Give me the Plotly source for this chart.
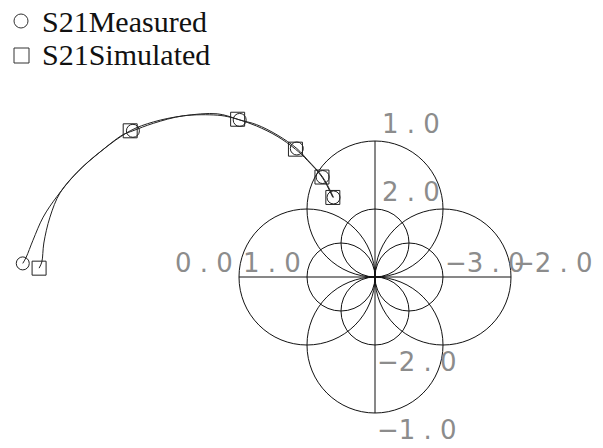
import plotly.graph_objects as go

# S21 trace (measured), polyline points and marker points, in chart units
meas_x = [-5.18, -5.13, -5.03, -4.88, -4.68, -4.38, -4.04, -3.71, -3.56, -3.26,
          -2.82, -2.32, -2.13, -1.99, -1.74, -1.44, -1.15, -0.99, -0.77, -0.61]
meas_y = [0.20, 0.29, 0.54, 0.88, 1.18, 1.54, 1.84, 2.09, 2.15, 2.26,
          2.37, 2.38, 2.35, 2.31, 2.24, 2.09, 1.89, 1.72, 1.47, 1.17]
meas_mx = [-5.18, -3.56, -1.99, -1.15, -0.77, -0.61]
meas_my = [0.20, 2.15, 2.31, 1.89, 1.47, 1.17]

# S21 trace (simulated)
sim_x = [-4.94, -4.90, -4.87, -4.78, -4.63, -4.35, -4.03, -3.60, -3.26,
         -2.82, -2.32, -2.02, -1.74, -1.44, -1.17, -0.99, -0.78, -0.62]
sim_y = [0.13, 0.22, 0.50, 0.88, 1.24, 1.57, 1.85, 2.15, 2.28,
         2.37, 2.40, 2.32, 2.22, 2.07, 1.88, 1.71, 1.47, 1.17]
sim_mx = [-4.94, -3.60, -2.02, -1.17, -0.78, -0.62]
sim_my = [0.13, 2.15, 2.32, 1.88, 1.47, 1.17]

series_names = ["S21Measured", "S21Simulated"]

# grid circles: radius of each circle family, all tangent at the origin
grid_radii = [1.0, 0.5]
grid_dirs = [(0, 1), (0, -1), (-1, 0), (1, 0)]

# axis labels placed at the grid extremes
top_labels = ["1 . 0", "2 . 0"]                 # at y = 2, 1
bottom_labels = ["\u22122 . 0", "\u22121 . 0"]  # at y = -1, -2
left_labels = ["0 . 0", "1 . 0"]                # at x = -2, -1
right_labels = ["\u22123 . 0", "\u22122 . 0"]   # at x = 1, 2

W, H = 603, 448
PX = 68.0          # pixels per chart unit
CX, CY = 375, 277  # origin in pixels

fig = go.Figure()

for xs, ys in [(meas_x, meas_y), (sim_x, sim_y)]:
    fig.add_trace(go.Scatter(x=xs, y=ys, mode="lines", showlegend=False,
                             line=dict(color="#222", width=1, shape="spline"),
                             hoverinfo="skip"))
fig.add_trace(go.Scatter(x=meas_mx, y=meas_my, mode="markers", name=series_names[0],
                         showlegend=False,
                         marker=dict(symbol="circle-open", size=13,
                                     color="#222", line=dict(width=1, color="#222"))))
fig.add_trace(go.Scatter(x=sim_mx, y=sim_my, mode="markers", name=series_names[1],
                         showlegend=False,
                         marker=dict(symbol="square-open", size=14,
                                     color="#222", line=dict(width=1, color="#222"))))

shapes = []
for r in grid_radii:
    for dx, dy in grid_dirs:
        cx, cy = dx * r, dy * r
        shapes.append(dict(type="circle", xref="x", yref="y",
                           x0=cx - r, x1=cx + r, y0=cy - r, y1=cy + r,
                           line=dict(color="#111", width=1), layer="below"))
ext = 2 * max(grid_radii)
shapes.append(dict(type="line", x0=-ext, x1=ext, y0=0, y1=0,
                   line=dict(color="#111", width=1), layer="below"))
shapes.append(dict(type="line", x0=0, x1=0, y0=-ext, y1=ext,
                   line=dict(color="#111", width=1), layer="below"))

# legend key symbols (pixel-based paper coordinates, margins are zero)
def px_box(xc, yc, s):
    return dict(xref="paper", yref="paper",
                x0=(xc - s / 2) / W, x1=(xc + s / 2) / W,
                y0=1 - (yc + s / 2) / H, y1=1 - (yc - s / 2) / H,
                line=dict(color="#333", width=1))

shapes.append(dict(type="circle", **px_box(21, 21, 14)))
shapes.append(dict(type="rect", **px_box(21.5, 55.5, 15)))

lab_font = dict(family="DejaVu Sans", size=26, color="#8c8c8c")
ann = []
for txt, yy in zip(top_labels, [2.0, 1.0]):
    ann.append(dict(x=0.08, y=yy, text=txt, xanchor="left", yanchor="bottom",
                    yshift=0, showarrow=False, font=lab_font))
for txt, yy in zip(bottom_labels, [-1.0, -2.0]):
    ann.append(dict(x=0.0, y=yy, text=txt, xanchor="left", yanchor="top",
                    showarrow=False, font=lab_font))
for txt, xx in zip(left_labels, [-2.0, -1.0]):
    ann.append(dict(x=xx, y=0, text=txt, xanchor="right", yanchor="bottom",
                    xshift=-4, yshift=-3, showarrow=False, font=lab_font))
for txt, xx in zip(right_labels, [1.0, 2.0]):
    ann.append(dict(x=xx, y=0, text=txt, xanchor="left", yanchor="bottom",
                    yshift=-3, showarrow=False, font=lab_font))

leg_font = dict(family="Liberation Serif", size=30, color="#111")
for name, yc in zip(series_names, [21, 55]):
    ann.append(dict(xref="paper", yref="paper", x=40 / W, y=1 - yc / H,
                    text=name, xanchor="left", yanchor="middle",
                    showarrow=False, font=leg_font))

fig.update_layout(
    width=W, height=H,
    margin=dict(l=0, r=0, t=0, b=0),
    paper_bgcolor="white", plot_bgcolor="white",
    xaxis=dict(range=[-CX / PX, (W - CX) / PX], visible=False, fixedrange=True),
    yaxis=dict(range=[(CY - H) / PX, CY / PX], visible=False, fixedrange=True),
    shapes=shapes, annotations=ann,
    showlegend=False,
)

fig.write_html("out.html")
